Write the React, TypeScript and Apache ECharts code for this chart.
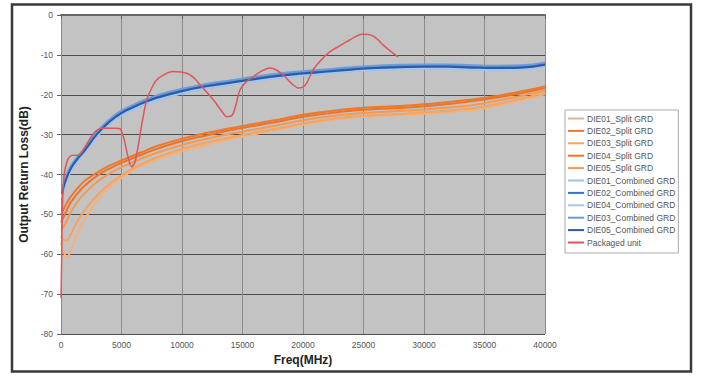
import React, { useEffect, useRef } from "react";
import * as echarts from "echarts";

const xTicks = [0, 5000, 10000, 15000, 20000, 25000, 30000, 35000, 40000];
const yTicks = [0, -10, -20, -30, -40, -50, -60, -70, -80];

const freqSplit = [0, 250, 500, 750, 1000, 1500, 2000, 3000, 4000, 5000, 6000, 7000, 8000, 10000, 12000, 14000, 16000, 18000, 20000, 22000, 24000, 26000, 28000, 30000, 32000, 34000, 36000, 38000, 40000];
const die01Split = [-57, -59.5, -60.8, -59.5, -57.5, -53.8, -51, -46.5, -43.2, -40.8, -38.9, -37.4, -36.2, -34.2, -32.6, -31.1, -29.9, -28.7, -27.5, -26.5, -25.8, -25.4, -25.1, -24.8, -24.4, -23.8, -22.8, -21.4, -19.9];
const die02Split = [-50, -48.5, -47, -45.8, -44.8, -43, -41.5, -39.5, -37.8, -36.5, -35.2, -34, -32.8, -31, -29.6, -28.4, -27.3, -26.2, -25, -24.2, -23.5, -23.1, -22.8, -22.4, -21.8, -21.2, -20.3, -19.2, -17.9];
const die03Split = [-55.5, -56.5, -56.5, -55.3, -53.8, -51, -48.8, -45.2, -42.4, -40.2, -38.4, -36.9, -35.6, -33.6, -32.0, -30.7, -29.5, -28.4, -27.2, -26.2, -25.5, -25.1, -24.8, -24.4, -24.0, -23.4, -22.3, -21.0, -19.5];
const die04Split = [-52, -50.5, -48.8, -47.3, -46.2, -44.3, -42.7, -40.3, -38.5, -37.1, -35.8, -34.6, -33.5, -31.6, -30.2, -28.9, -27.8, -26.7, -25.5, -24.7, -24.0, -23.6, -23.3, -22.9, -22.3, -21.6, -20.7, -19.6, -18.3];
const die05Split = [-54, -53, -51.5, -49.8, -48.5, -46.3, -44.6, -41.8, -39.8, -38.2, -36.8, -35.6, -34.5, -32.6, -31.1, -29.8, -28.7, -27.6, -26.4, -25.5, -24.8, -24.4, -24.1, -23.7, -23.2, -22.6, -21.5, -20.3, -18.9];

const freqComb = [100, 250, 500, 750, 1000, 1500, 2000, 3000, 4000, 5000, 6000, 7000, 8000, 10000, 12000, 14000, 16000, 18000, 20000, 22000, 24000, 26000, 28000, 30000, 32000, 34000, 36000, 38000, 40000];
const die01Comb = [-45.8, -43.5, -41.3, -39.6, -38.2, -36.2, -34.4, -30.4, -27.4, -25.2, -23.7, -22.4, -21.3, -19.7, -18.5, -17.5, -16.6, -15.8, -15.2, -14.7, -14.2, -13.8, -13.6, -13.5, -13.5, -13.7, -13.8, -13.6, -13.0];
const die02Comb = [-44.6, -42.4, -40.2, -38.5, -37.3, -35.3, -33.5, -29.5, -26.5, -24.3, -22.8, -21.5, -20.4, -18.8, -17.6, -16.7, -15.8, -15.0, -14.4, -13.9, -13.4, -13.0, -12.8, -12.7, -12.7, -12.9, -13.0, -12.9, -12.2];
const die04Comb = [-45.4, -43.1, -41.0, -39.2, -37.9, -35.9, -34.1, -30.1, -27.1, -24.9, -23.4, -22.1, -21.0, -19.4, -18.2, -17.3, -16.4, -15.6, -15.0, -14.5, -14.0, -13.6, -13.4, -13.3, -13.3, -13.5, -13.6, -13.5, -12.8];
const die03Comb = [-44.2, -42.1, -39.9, -38.2, -37.0, -35.0, -33.2, -29.2, -26.2, -24.0, -22.5, -21.2, -20.1, -18.5, -17.3, -16.4, -15.5, -14.7, -14.1, -13.6, -13.1, -12.7, -12.5, -12.4, -12.4, -12.6, -12.7, -12.6, -11.9];
const die05Comb = [-45, -42.8, -40.6, -38.9, -37.6, -35.6, -33.8, -29.8, -26.8, -24.6, -23.1, -21.8, -20.7, -19.1, -17.9, -17.0, -16.1, -15.3, -14.7, -14.2, -13.7, -13.3, -13.1, -13.0, -13.0, -13.2, -13.3, -13.2, -12.5];

const freqPkg = [0, 60, 120, 200, 350, 600, 900, 1500, 2000, 2500, 3000, 3500, 4600, 4900, 5200, 5540, 5840, 6100, 6370, 6700, 7080, 7500, 7900, 8500, 9260, 10390, 11000, 11490, 12600, 13300, 13700, 14000, 14250, 14500, 14790, 15300, 15870, 16500, 17270, 17800, 18350, 19170, 19600, 20000, 20300, 20830, 21500, 22230, 23000, 23610, 24300, 24850, 25400, 25800, 26200, 26610, 27200, 27850];
const pkgUnit = [-71, -60, -48, -42, -38.5, -36, -35.2, -35.1, -33, -30.5, -28.8, -28.4, -28.4, -28.6, -31, -35.6, -38.1, -37, -33, -27, -21.3, -18.3, -16.3, -15, -14.2, -14.6, -15.8, -17.5, -21.3, -24.2, -25.5, -25.4, -24.6, -22, -18.8, -16.8, -15.5, -14.2, -13.3, -13.8, -15, -17.5, -18.3, -18.1, -17.1, -13.8, -11.3, -9.2, -7.8, -6.7, -5.5, -4.8, -4.9, -5.3, -6.2, -7.5, -9, -10.5];

const seriesNames = ["DIE01_Split GRD", "DIE02_Split GRD", "DIE03_Split GRD", "DIE04_Split GRD", "DIE05_Split GRD", "DIE01_Combined GRD", "DIE02_Combined GRD", "DIE04_Combined GRD", "DIE03_Combined GRD", "DIE05_Combined GRD", "Packaged unit"];
const seriesColors = ["#f6b078", "#ec7a2c", "#f5a462", "#ee7326", "#f39a52", "#9ec2ea", "#3a72c8", "#a6c8ee", "#6c9bd8", "#2a5aa8", "#e0555a"];

function pairs(xs: number[], ys: number[]) {
  return xs.map((x, i) => [x, ys[i]]);
}

export default function App() {
  const ref = useRef<HTMLDivElement>(null);
  useEffect(() => {
    if (!ref.current) return;
    const chart = echarts.init(ref.current, undefined, { renderer: "svg" });
    const dataSets = [
      pairs(freqSplit, die01Split),
      pairs(freqSplit, die02Split),
      pairs(freqSplit, die03Split),
      pairs(freqSplit, die04Split),
      pairs(freqSplit, die05Split),
      pairs(freqComb, die01Comb),
      pairs(freqComb, die02Comb),
      pairs(freqComb, die04Comb),
      pairs(freqComb, die03Comb),
      pairs(freqComb, die05Comb),
      pairs(freqPkg, pkgUnit),
    ];
    const series = seriesNames.map((name, i) => ({
      name,
      type: "line",
      data: dataSets[i],
      symbol: "none",
      smooth: i === 10 ? 0.3 : true,
      lineStyle: { color: seriesColors[i], width: i === 10 ? 1.5 : 2 },
      itemStyle: { color: seriesColors[i] },
      z: i === 10 ? 5 : 3,
    }));
    chart.setOption({
      animation: false,
      textStyle: { fontFamily: "Arial, 'Liberation Sans', sans-serif" },
      grid: {
        left: 61,
        top: 15,
        width: 484,
        height: 319,
        show: true,
        backgroundColor: "#c3c3c3",
        borderWidth: 0,
      },
      xAxis: {
        type: "value",
        min: 0,
        max: 40000,
        interval: 5000,
        name: "Freq(MHz)",
        nameLocation: "middle",
        nameGap: 20,
        nameTextStyle: { fontSize: 12, fontWeight: "bold", color: "#222" },
        axisLine: { show: true, lineStyle: { color: "#666", width: 2 } },
        axisTick: { show: true, inside: false, length: 4, lineStyle: { color: "#666" } },
        axisLabel: { fontSize: 8.5, color: "#555", margin: 6, formatter: (v: number) => (xTicks.includes(v) ? String(v) : "") },
        splitLine: { show: true, lineStyle: { color: "#8c8c8c", width: 1 } },
      },
      yAxis: {
        type: "value",
        min: -80,
        max: 0,
        interval: 10,
        name: "Output Return Loss(dB)",
        nameLocation: "middle",
        nameGap: 25,
        nameTextStyle: { fontSize: 12, fontWeight: "bold", color: "#222" },
        axisLine: { show: true, onZero: false, lineStyle: { color: "#888", width: 1 } },
        axisTick: { show: true, inside: false, length: 4, lineStyle: { color: "#666" } },
        axisLabel: { fontSize: 8.5, color: "#555", margin: 8, formatter: (v: number) => (yTicks.includes(v) ? String(v) : "") },
        splitLine: { show: true, lineStyle: { color: "#4d4d4d", width: 1 } },
      },
      legend: {
        orient: "vertical",
        left: 565,
        top: 110,
        data: seriesNames.map((n, i) => ({ name: n, icon: "rect", itemStyle: { color: seriesColors[i] } })),
        itemWidth: 16,
        itemHeight: 2,
        itemGap: 3.4,
        padding: [4, 3, 6, 3],
        backgroundColor: "#fff",
        borderColor: "#aaa",
        borderWidth: 1,
        textStyle: { fontSize: 8.5, lineHeight: 8, color: "#555", padding: [0, 0, 0, -2] },
      },
      graphic: [
        {
          type: "rect",
          shape: { x: 12, y: 4.5, width: 679, height: 367 },
          style: { fill: "none", stroke: "#3a3a3a", lineWidth: 2.5 },
          silent: true,
          z: 100,
        },
      ],
      series,
    });
    return () => chart.dispose();
  }, []);
  return <div ref={ref} style={{ width: 702, height: 376, position: "absolute", left: 0, top: 0, background: "#fff" }} />;
}
